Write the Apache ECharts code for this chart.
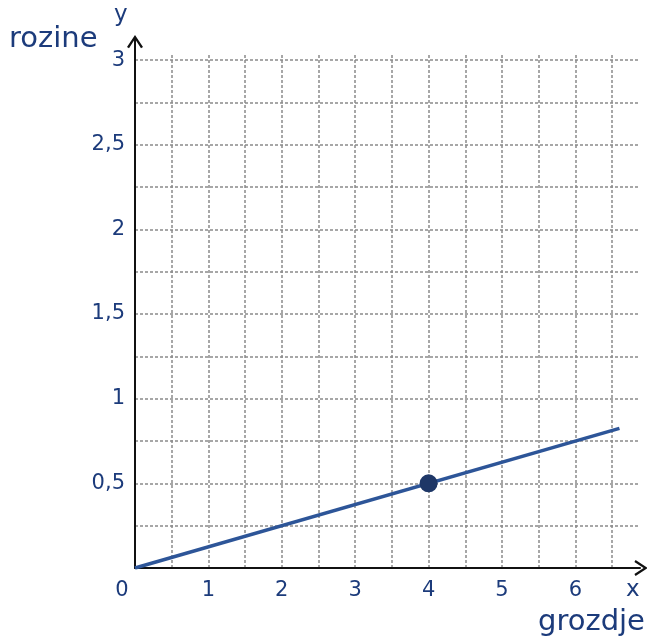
<!DOCTYPE html>
<html>
<head>
<meta charset="utf-8">
<script src="https://cdn.jsdelivr.net/npm/echarts@6/dist/echarts.min.js"></script>
<style>html,body{margin:0;padding:0;background:#fff}#c{width:647px;height:643px}</style>
</head>
<body>
<div id="c"></div>
<script>
const lineData = [[0, 0], [6.6, 0.825]];
const pointData = [[4, 0.5]];
const xAxisName = 'x';
const yAxisName = 'y';
const xTitle = 'grozdje';
const yTitle = 'rozine';

const navy = '#1c3b7b';
const fontFam = '"DejaVu Sans", Verdana, sans-serif';
const chevronX = 'path://M8,0 L16,12 L14,13.2 L8,4 L2,13.2 L0,12 Z';
const chevronY = 'path://M8,0 L16,12 L14,13.2 L8,4 L2,13.2 L0,12 Z M7,2 L9,2 L9,40 L7,40 Z';
const fmt = v => {
  if (Math.abs(v - Math.round(v)) > 1e-6) {
    if (Math.abs(v * 2 - Math.round(v * 2)) < 1e-6 && v > 0) return String(v).replace('.', ',');
    return '';
  }
  return String(Math.round(v));
};

const chart = echarts.init(document.getElementById('c'));
chart.setOption({
  animation: false,
  grid: { left: 135, right: 7, top: 55, bottom: 75, containLabel: false },
  xAxis: {
    type: 'value', min: 0, max: 6.88, interval: 0.5,
    axisLine: { onZero: false, lineStyle: { color: '#111', width: 2 }, symbol: ['none', chevronX], symbolSize: [16, 14], symbolOffset: [0, 1] },
    axisTick: { show: false },
    axisLabel: {
      margin: 12, fontSize: 21, color: navy, fontFamily: fontFam, showMaxLabel: false,
      formatter: v => {
        if (v === 0) return '{z|0}';
        return (Math.abs(v - Math.round(v)) < 1e-6) ? String(Math.round(v)) : '';
      },
      rich: { z: { fontSize: 21, color: navy, fontFamily: fontFam, padding: [0, 26, 0, 0] } }
    },
    splitLine: { show: true, showMinLine: false, showMaxLine: false, lineStyle: { color: '#8a8a8a', type: [3, 2], width: 1.5 } }
  },
  yAxis: {
    type: 'value', min: 0, max: 3.03, interval: 0.25,
    axisLine: { onZero: false, lineStyle: { color: '#111', width: 2 }, symbol: ['none', chevronY], symbolSize: [16, 40], symbolOffset: [0, 0] },
    axisTick: { show: false },
    axisLabel: {
      margin: 10, fontSize: 21, color: navy, fontFamily: fontFam, showMaxLabel: false,
      formatter: v => (v === 0 ? '' : fmt(v))
    },
    splitLine: { show: true, showMinLine: false, showMaxLine: false, lineStyle: { color: '#8a8a8a', type: [3, 2], width: 1.5 } }
  },
  graphic: [
    { type: 'text', left: 9, top: 25, style: { text: yTitle, fontSize: 29, fill: navy, fontFamily: fontFam } },
    { type: 'text', left: 114, top: 4, style: { text: yAxisName, fontSize: 23, fill: navy, fontFamily: fontFam } },
    { type: 'text', left: 626, top: 579, style: { text: xAxisName, fontSize: 23, fill: navy, fontFamily: fontFam } },
    { type: 'text', left: 538, top: 608, style: { text: xTitle, fontSize: 29, fill: navy, fontFamily: fontFam } }
  ],
  series: [
    { type: 'line', data: lineData, showSymbol: false, lineStyle: { color: '#2d5598', width: 3.5 }, z: 3 },
    { type: 'scatter', data: pointData, symbolSize: 18, itemStyle: { color: '#1e3767', opacity: 1 }, z: 4 }
  ]
});
</script>
</body>
</html>
